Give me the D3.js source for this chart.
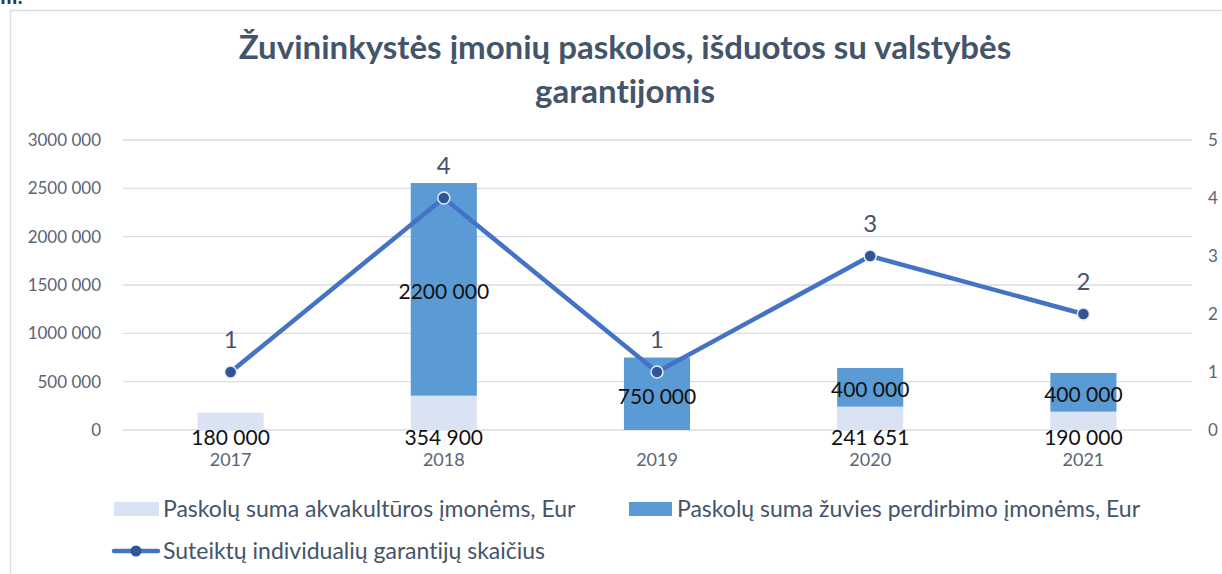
<!DOCTYPE html>
<html>
<head>
<meta charset="utf-8">
<script src="https://cdn.jsdelivr.net/npm/d3@7"></script>
<style>
  body { margin: 0; background: #fff; }
  text { font-family: Lato, "Open Sans", sans-serif; font-variant-ligatures: none; }
</style>
</head>
<body>
<script>
const years = ["2017", "2018", "2019", "2020", "2021"];
const akvakultura = [180000, 354900, 0, 241651, 190000];
const perdirbimas = [0, 2200000, 750000, 400000, 400000];
const garantijos = [1, 4, 1, 3, 2];
const leftTicks = [0, 500000, 1000000, 1500000, 2000000, 2500000, 3000000];
const rightTicks = [0, 1, 2, 3, 4, 5];
const seriesNames = ["Paskolų suma akvakultūros įmonėms, Eur",
    "Paskolų suma žuvies perdirbimo įmonėms, Eur",
    "Suteiktų individualių garantijų skaičius"];

const width = 1222, height = 574;
const colLight = "#dae3f3", colBlue = "#5b9bd5", colLine = "#4472c4",
    colDot = "#2f5597", colText = "#44546a", colGrid = "#d9dde6";

// Excel style: 2200 000, 241 651
function fmt(v) {
    if (v === 0) return "0";
    const hi = Math.floor(v / 1000), lo = v % 1000;
    return hi > 0 ? hi + " " + String(lo).padStart(3, "0") : String(lo);
}

const svg = d3.select("body").append("svg")
    .attr("width", width)
    .attr("height", height);

// frame of the chart
svg.append("rect")
    .attr("x", 10.5).attr("y", 10.5)
    .attr("width", width + 20).attr("height", height + 20)
    .attr("fill", "none")
    .attr("stroke", colGrid)
    .attr("stroke-width", 1.5);

svg.append("text")
    .attr("x", 0).attr("y", 4)
    .attr("fill", "#1f3864")
    .attr("font-weight", "bold")
    .attr("font-size", 20)
    .text("III.");

const title = svg.append("text")
    .attr("text-anchor", "middle")
    .attr("fill", colText)
    .attr("font-weight", "bold")
    .attr("font-size", 33);
title.append("tspan").attr("x", 625).attr("y", 59)
    .text("Žuvininkystės įmonių paskolos, išduotos su valstybės");
title.append("tspan").attr("x", 625).attr("y", 103)
    .text("garantijomis");

const x = d3.scaleBand()
    .domain(years)
    .range([124, 1190])
    .paddingInner(0.69)
    .paddingOuter(0.345);

const y = d3.scaleLinear().domain([0, 3000000]).range([430, 140]);
const y2 = d3.scaleLinear().domain([0, 5]).range([430, 140]);

// gridlines
svg.append("g")
    .selectAll("line")
    .data(leftTicks)
    .enter().append("line")
    .attr("x1", 123).attr("x2", 1192)
    .attr("y1", d => y(d)).attr("y2", d => y(d))
    .attr("stroke", colGrid)
    .attr("stroke-width", 1.3);

const leftAxis = svg.append("g")
    .attr("transform", "translate(101,0)")
    .call(d3.axisLeft(y).tickValues(leftTicks).tickFormat(fmt).tickSize(0).tickPadding(0));
leftAxis.select(".domain").remove();
leftAxis.selectAll("text")
    .attr("fill", "#5b6475")
    .attr("font-size", 17)
    .style("font-family", "Lato, sans-serif");

const rightAxis = svg.append("g")
    .attr("transform", "translate(1208,0)")
    .call(d3.axisRight(y2).tickValues(rightTicks).tickFormat(d3.format("d")).tickSize(0).tickPadding(0));
rightAxis.select(".domain").remove();
rightAxis.selectAll("text")
    .attr("fill", "#5b6475")
    .attr("font-size", 17)
    .style("font-family", "Lato, sans-serif");

const bottomAxis = svg.append("g")
    .attr("transform", "translate(0,453)")
    .call(d3.axisBottom(x).tickSize(0).tickPadding(0));
bottomAxis.select(".domain").remove();
bottomAxis.selectAll("text")
    .attr("fill", "#5b6475")
    .attr("font-size", 18)
    .style("font-family", "Lato, sans-serif");

// stacked bars
const rows = years.map((yr, i) => ({year: yr, a: akvakultura[i], p: perdirbimas[i]}));
const stack = d3.stack().keys(["a", "p"])(rows);
const barColors = [colLight, colBlue];

svg.append("g")
    .selectAll("g")
    .data(stack)
    .enter().append("g")
    .attr("fill", (d, i) => barColors[i])
    .selectAll("rect")
    .data(d => d)
    .enter().append("rect")
    .attr("x", d => x(d.data.year))
    .attr("width", x.bandwidth())
    .attr("y", d => y(d[1]))
    .attr("height", d => y(d[0]) - y(d[1]));

// bar labels
const labels = svg.append("g")
    .attr("text-anchor", "middle")
    .attr("fill", "#111")
    .attr("font-size", 21);

labels.selectAll(".lab-a")
    .data(rows.filter(d => d.a > 0))
    .enter().append("text")
    .attr("class", "lab-a")
    .attr("x", d => x(d.year) + x.bandwidth() / 2)
    .attr("y", d => y(0) + 15)
    .text(d => fmt(d.a));

labels.selectAll(".lab-p")
    .data(rows.filter(d => d.p > 0))
    .enter().append("text")
    .attr("class", "lab-p")
    .attr("x", d => x(d.year) + x.bandwidth() / 2)
    .attr("y", d => y(d.a + d.p / 2) + 10)
    .text(d => fmt(d.p));

// line series
const pts = years.map((yr, i) => ({year: yr, v: garantijos[i]}));
const line = d3.line()
    .x(d => x(d.year) + x.bandwidth() / 2)
    .y(d => y2(d.v));

svg.append("path")
    .datum(pts)
    .attr("d", line)
    .attr("fill", "none")
    .attr("stroke", colLine)
    .attr("stroke-width", 4.5)
    .attr("stroke-linejoin", "round");

svg.append("g")
    .selectAll("circle")
    .data(pts)
    .enter().append("circle")
    .attr("cx", d => x(d.year) + x.bandwidth() / 2)
    .attr("cy", d => y2(d.v))
    .attr("r", 6)
    .attr("fill", colDot)
    .attr("stroke", "#e6e9ef")
    .attr("stroke-width", 1.5);

svg.append("g")
    .attr("text-anchor", "middle")
    .attr("fill", colText)
    .attr("font-size", 24)
    .selectAll("text")
    .data(pts)
    .enter().append("text")
    .attr("x", d => x(d.year) + x.bandwidth() / 2)
    .attr("y", d => y2(d.v) - 24)
    .text(d => d.v);

// legend
const legend = svg.append("g")
    .attr("fill", colText)
    .attr("font-size", 23);

legend.append("rect").attr("x", 114).attr("y", 502).attr("width", 45).attr("height", 14).attr("fill", colLight);
legend.append("text").attr("x", 163).attr("y", 517).text(seriesNames[0]);

legend.append("rect").attr("x", 629).attr("y", 502).attr("width", 43).attr("height", 14).attr("fill", colBlue);
legend.append("text").attr("x", 677).attr("y", 517).text(seriesNames[1]);

legend.append("line").attr("x1", 114).attr("x2", 158).attr("y1", 551).attr("y2", 551)
    .attr("stroke", colLine).attr("stroke-width", 4.5).attr("stroke-linecap", "round");
legend.append("circle").attr("cx", 136).attr("cy", 551).attr("r", 5.5).attr("fill", colDot);
legend.append("text").attr("x", 163).attr("y", 559).text(seriesNames[2]);
</script>
</body>
</html>
